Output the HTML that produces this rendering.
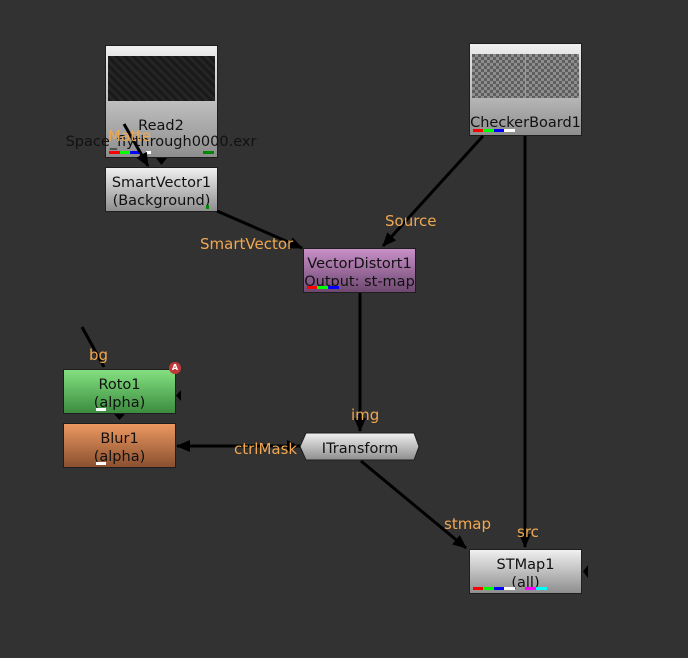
<!DOCTYPE html>
<html><head><meta charset="utf-8"><style>
body{margin:0;width:688px;height:658px;background:#323232;position:relative;overflow:hidden;font-family:"DejaVu Sans","Liberation Sans",sans-serif;}
.n{position:absolute;box-sizing:border-box;border:1px solid #1e1e1e;text-align:center;font-size:14.5px;color:#111;line-height:18px;white-space:nowrap;}
.g{background:linear-gradient(#f0f0f0,#8e8e8e);}
.lbl{position:absolute;color:#f0a850;font-size:15px;white-space:nowrap;}
.t{position:absolute;color:#111;font-size:14.5px;white-space:nowrap;text-align:center;}
.bar{position:absolute;height:3px;}
svg{position:absolute;left:0;top:0;}
</style></head><body>
<!-- Read2 -->
<div class="n g" style="left:105px;top:45px;width:113px;height:113px;"></div>
<div style="position:absolute;left:108px;top:56px;width:107px;height:45px;background:repeating-linear-gradient(45deg,#1a1a1a 0 3px,#252525 3px 6px),#1c1c1c;"></div>
<div class="t" style="left:61px;width:200px;top:118px;">Read2</div>
<div class="t" style="left:61px;width:200px;top:134px;">Space_flythrough0000.exr</div>
<div class="bar" style="left:109px;top:151px;width:11px;background:#f00"></div>
<div class="bar" style="left:120px;top:151px;width:10px;background:#0f0"></div>
<div class="bar" style="left:130px;top:151px;width:10px;background:#00f"></div>
<div class="bar" style="left:146px;top:151px;width:5px;background:#fff"></div>
<div class="bar" style="left:203px;top:151px;width:11px;background:#080"></div>
<!-- SmartVector1 -->
<div class="n g" style="left:105px;top:167px;width:113px;height:45px;padding-top:6px;">SmartVector1<br>(Background)</div>
<div style="position:absolute;left:206px;top:205px;width:3px;height:4px;background:#080"></div>
<!-- CheckerBoard -->
<div class="n g" style="left:469px;top:43px;width:113px;height:93px;"></div>
<div style="position:absolute;left:472px;top:54px;width:107px;height:44px;background:repeating-conic-gradient(#8e8e8e 0 25%,#5e5e5e 0 50%) 0 0/6px 6px;"></div>
<div style="position:absolute;left:525px;top:54px;width:1px;height:44px;background:#a8a060"></div>
<div class="t" style="left:469px;width:113px;top:115px;">CheckerBoard1</div>
<div class="bar" style="left:473px;top:129px;width:10px;background:#f00"></div>
<div class="bar" style="left:483px;top:129px;width:11px;background:#0f0"></div>
<div class="bar" style="left:494px;top:129px;width:10px;background:#00f"></div>
<div class="bar" style="left:504px;top:129px;width:11px;background:#fff"></div>
<!-- VectorDistort -->
<div class="n" style="left:303px;top:248px;width:113px;height:45px;padding-top:6px;background:linear-gradient(#c890c8,#6e4870);">VectorDistort1<br>Output: st-map</div>
<div class="bar" style="left:307px;top:286px;width:10px;background:#f00"></div>
<div class="bar" style="left:317px;top:286px;width:11px;background:#0f0"></div>
<div class="bar" style="left:328px;top:286px;width:11px;background:#00f"></div>
<!-- Roto -->
<div class="n" style="left:63px;top:369px;width:113px;height:45px;padding-top:6px;background:linear-gradient(#84e080,#3c8c40);">Roto1<br>(alpha)</div>
<div class="bar" style="left:96px;top:408px;width:10px;background:#fff"></div>
<div style="position:absolute;left:169px;top:362px;width:12px;height:12px;border-radius:50%;background:#c03838;color:#fff;font-size:8px;line-height:12px;text-align:center;font-weight:bold;">A</div>
<!-- Blur -->
<div class="n" style="left:63px;top:423px;width:113px;height:45px;padding-top:6px;background:linear-gradient(#ec9860,#8a5030);">Blur1<br>(alpha)</div>
<div class="bar" style="left:96px;top:462px;width:10px;background:#fff"></div>
<!-- STMap -->
<div class="n g" style="left:469px;top:549px;width:113px;height:45px;padding-top:6px;">STMap1<br>(all)</div>
<div class="bar" style="left:473px;top:587px;width:10px;background:#f00"></div>
<div class="bar" style="left:483px;top:587px;width:11px;background:#0f0"></div>
<div class="bar" style="left:494px;top:587px;width:10px;background:#00f"></div>
<div class="bar" style="left:504px;top:587px;width:11px;background:#fff"></div>
<div class="bar" style="left:525px;top:587px;width:11px;background:#f0f"></div>
<div class="bar" style="left:536px;top:587px;width:11px;background:#0ff"></div>
<svg width="688" height="658">
<defs><linearGradient id="hg" x1="0" y1="0" x2="0" y2="1"><stop offset="0" stop-color="#f0f0f0"/><stop offset="1" stop-color="#8e8e8e"/></linearGradient>
<marker id="a" markerWidth="14" markerHeight="12" refX="13" refY="6" orient="auto" markerUnits="userSpaceOnUse"><path d="M0,0L14,6L0,12z" fill="#000"/></marker></defs>
<polygon points="306,433 414,433 419,446.5 414,460 306,460 300,446.5" fill="url(#hg)" stroke="#1e1e1e"/>
<g stroke="#000" stroke-width="3" fill="none">
<line x1="124" y1="124" x2="148" y2="166" marker-end="url(#a)"/>
<line x1="483" y1="136" x2="383" y2="246" marker-end="url(#a)"/>
<line x1="525" y1="136" x2="525" y2="547" marker-end="url(#a)"/>
<line x1="217" y1="211" x2="302" y2="248" marker-end="url(#a)"/>
<line x1="360" y1="293" x2="360" y2="431" marker-end="url(#a)"/>
<line x1="361" y1="461" x2="466" y2="548" marker-end="url(#a)"/>
<line x1="300" y1="446" x2="177" y2="446" marker-end="url(#a)"/>
<line x1="82" y1="327" x2="104" y2="367"/>
</g>
<path d="M156,158L167,158L161.5,165z" fill="#000"/>
<path d="M114,414L125,414L119.5,420z" fill="#000"/>
<path d="M181,390L181,401L176,395.5z" fill="#000"/>
<path d="M588,565L588,578L583,571.5z" fill="#000"/>
<path d="M287,440L299,446L287,452z" fill="#000"/>
<text x="360" y="453" text-anchor="middle" font-family="DejaVu Sans,sans-serif" font-size="14.5" fill="#111">ITransform</text>
</svg>
<div class="lbl" style="left:108px;top:127px;">Matte</div>
<div class="lbl" style="left:200px;top:235px;">SmartVector</div>
<div class="lbl" style="left:385px;top:212px;">Source</div>
<div class="lbl" style="left:89px;top:346px;">bg</div>
<div class="lbl" style="left:351px;top:406px;">img</div>
<div class="lbl" style="left:234px;top:440px;">ctrlMask</div>
<div class="lbl" style="left:444px;top:515px;">stmap</div>
<div class="lbl" style="left:517px;top:523px;">src</div>
</body></html>
